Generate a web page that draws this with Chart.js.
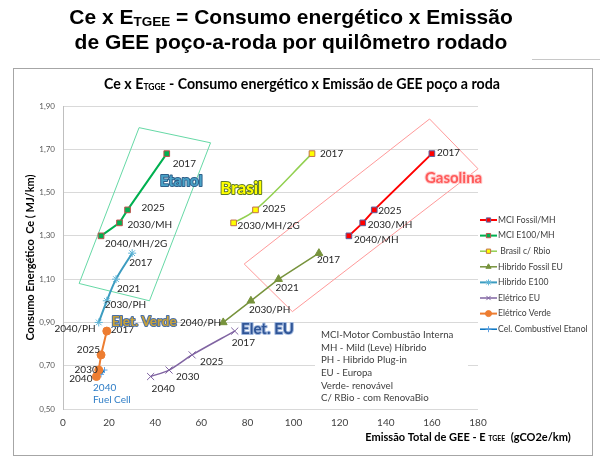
<!DOCTYPE html>
<html>
<head>
<meta charset="utf-8">
<script src="https://cdn.jsdelivr.net/npm/chart.js@4/dist/chart.umd.min.js"></script>
<style>
  html, body { margin: 0; padding: 0; background: #fff; }
  #wrap { position: relative; width: 600px; height: 460px; overflow: hidden; }
  #title {
    position: absolute; left: -9px; top: 4px; width: 600px; text-align: center;
    font: bold 21px "Liberation Sans", Arial, sans-serif; line-height: 25px; color: #000;
  }
  #title sub { font-size: 13.5px; vertical-align: -2px; line-height: 0; }
  canvas { position: absolute; left: 0; top: 0; }
</style>
</head>
<body>
<div id="wrap">
  <canvas id="chart" width="600" height="460"></canvas>
  <div id="title">Ce x E<sub>TGEE</sub> = Consumo energético x Emissão<br>de GEE poço-a-roda por quilômetro rodado</div>
</div>
<script>
/* =========================
   DATA
========================= */
const fossilX = [160, 135, 130, 124];
const fossilY = [1.68, 1.42, 1.36, 1.30];
const fossilYears = ["2017", "2025", "2030/MH", "2040/MH"];

const e100X = [45, 28, 24.5, 16.5];
const e100Y = [1.68, 1.42, 1.36, 1.30];
const e100Years = ["2017", "2025", "2030/MH", "2040/MH/2G"];

const brasilX = [108, 83.5, 74];
const brasilY = [1.68, 1.42, 1.36];
const brasilYears = ["2017", "2025", "2030/MH/2G"];

const hibFossilX = [111, 93.5, 81.5, 69.5];
const hibFossilY = [1.22, 1.10, 1.00, 0.90];
const hibFossilYears = ["2017", "2021", "2030/PH", "2040/PH"];

const hibE100X = [30, 23, 19, 15.5];
const hibE100Y = [1.22, 1.10, 1.00, 0.90];
const hibE100Years = ["2017", "2021", "2030/PH", "2040/PH"];

const eletEuX = [74.5, 56, 46, 38];
const eletEuY = [0.86, 0.75, 0.68, 0.65];
const eletEuYears = ["2017", "2025", "2030", "2040"];

const eletVerdeX = [19, 16.5, 15.5, 14.5];
const eletVerdeY = [0.86, 0.75, 0.68, 0.65];
const eletVerdeYears = ["2017", "2025", "2030", "2040"];

const celX = [16.5, 18];
const celY = [0.66, 0.68];

// outlined group boxes (data units)
const etanolBoxX = [33, 64, 37.5, 7, 33];
const etanolBoxY = [1.80, 1.73, 1.00, 1.08, 1.80];
const gasolinaBoxX = [159, 180, 99.5, 78.6, 159];
const gasolinaBoxY = [1.84, 1.61, 0.95, 1.17, 1.84];

const xMin = 0, xMax = 180, xStep = 20;
const yMin = 0.5, yMax = 1.9, yStep = 0.2;

const notes = [
  "MCI-Motor Combustão Interna",
  "MH - Mild (Leve) Híbrido",
  "PH - Hibrido Plug-in",
  "EU - Europa",
  "Verde- renovável",
  "C/ RBio - com RenovaBio"
];

/* =========================
   LABEL PLACEMENT  [dx, dy, align]
========================= */
const place = {
  fossil:    [[5, -1, "l"], [4, 1, "l"], [5, 2, "l"], [5, 4, "l"]],
  e100:      [[6, 10, "l"], [14, -2, "l"], [8, 2, "l"], [4, 8, "l"]],
  brasil:    [[8, 0, "l"], [7, -1, "l"], [4, 3, "l"]],
  hibFossil: [[-2, 7, "l"], [-3, 9, "l"], [-2, 9, "l"], [-2, 0, "r"]],
  hibE100:   [[-3, 10, "l"], [1, 10, "l"], [-2, 4, "l"], [-3, 6, "r"]],
  eletEu:    [[-3, 12, "l"], [8, 7, "l"], [7, 7, "l"], [1, 12, "l"]],
  eletVerde: [[4, -1, "l"], [-1, -5, "r"], [-1, 0, "r"], [-4, 2, "r"]]
};

// big group captions: text, x, y (data units), style
const captions = [
  { text: "Etanol",      x: 51.3,  y: 1.553, size: 15, fill: "#4aa3c8", stroke: "#2f5f8a" },
  { text: "Brasil",      x: 77.3,  y: 1.52,  size: 17, fill: "#ffff00", stroke: "#5f7a2a" },
  { text: "Gasolina",    x: 169.4, y: 1.567, size: 15, fill: "#ff5a5a", stroke: "#ffd0d0" },
  { text: "Elet. Verde", x: 35.2,  y: 0.902, size: 13.5, fill: "#c9a23a", stroke: "#4a6fa5" },
  { text: "Elet. EU",    x: 88.7,  y: 0.87,  size: 15, fill: "#2f5597", stroke: "#9fb6dc" }
];

/* =========================
   DATASETS
========================= */
function pts(xs, ys) {
  return xs.map((x, i) => ({ x: x, y: ys[i] }));
}

function series(label, xs, ys, years, key, style) {
  return Object.assign({
    label: label,
    data: pts(xs, ys),
    years: years,
    labelPlace: key ? place[key] : null,
    showLine: true,
    legend: true
  }, style);
}

const datasets = [
  series("MCI Fossil/MH", fossilX, fossilY, fossilYears, "fossil", {
    borderColor: "#ff0000", backgroundColor: "#ff0000", borderWidth: 2,
    pointStyle: "rect", pointRadius: 4, pointBorderColor: "#5b5f9e", pointBorderWidth: 1
  }),
  series("MCI E100/MH", e100X, e100Y, e100Years, "e100", {
    borderColor: "#00b050", backgroundColor: "#00b050", borderWidth: 2,
    pointStyle: "rect", pointRadius: 4, pointBorderColor: "#c0504d", pointBorderWidth: 1
  }),
  series(" Brasil c/ Rbio", brasilX, brasilY, brasilYears, "brasil", {
    borderColor: "#92d050", backgroundColor: "#ffff00", borderWidth: 1.5, tension: 0.4,
    pointStyle: "rect", pointRadius: 4, pointBorderColor: "#c0704d", pointBorderWidth: 1
  }),
  series("Hibrido Fossil EU", hibFossilX, hibFossilY, hibFossilYears, "hibFossil", {
    borderColor: "#77933c", backgroundColor: "#77933c", borderWidth: 1.5,
    pointStyle: "triangle", pointRadius: 4.5, pointBorderColor: "#77933c", pointBorderWidth: 1
  }),
  series("Hibrido E100", hibE100X, hibE100Y, hibE100Years, "hibE100", {
    borderColor: "#3c9cc0", backgroundColor: "#3c9cc0", borderWidth: 2, tension: 0.3,
    pointStyle: "star", pointRadius: 4, pointBorderColor: "#5fb4d6", pointBorderWidth: 1
  }),
  series("Elétrico EU", eletEuX, eletEuY, eletEuYears, "eletEu", {
    borderColor: "#8064a2", backgroundColor: "#8064a2", borderWidth: 1.5, tension: 0.3,
    pointStyle: "crossRot", pointRadius: 5, pointBorderColor: "#8064a2", pointBorderWidth: 1
  }),
  series("Elétrico Verde", eletVerdeX, eletVerdeY, eletVerdeYears, "eletVerde", {
    borderColor: "#ed7d31", backgroundColor: "#ed7d31", borderWidth: 2,
    pointStyle: "circle", pointRadius: 4, pointBorderColor: "#ed7d31", pointBorderWidth: 1
  }),
  series("Cel. Combustível Etanol", celX, celY, null, null, {
    borderColor: "#0070c0", backgroundColor: "#0070c0", borderWidth: 1.5,
    pointStyle: "cross", pointRadius: 3, pointBorderColor: "#5fa0e0", pointBorderWidth: 1
  }),
  {
    label: "etanolBox", data: pts(etanolBoxX, etanolBoxY), showLine: true, legend: false,
    borderColor: "#66d9a6", borderWidth: 1, pointRadius: 0, clip: false
  },
  {
    label: "gasolinaBox", data: pts(gasolinaBoxX, gasolinaBoxY), showLine: true, legend: false,
    borderColor: "#ff9a9a", borderWidth: 1, pointRadius: 0, clip: false
  }
];

/* =========================
   DRAWING HELPERS
========================= */
const LABEL_FONT = "Lato, 'Open Sans', sans-serif";

function subText(ctx, parts, x, y, align) {
  // parts: [[text, font, dy]]
  let total = 0;
  parts.forEach(p => { ctx.font = p[1]; total += ctx.measureText(p[0]).width; });
  let cx = align === "center" ? x - total / 2 : x;
  ctx.textAlign = "left";
  parts.forEach(p => {
    ctx.font = p[1];
    ctx.fillText(p[0], cx, y + p[2]);
    cx += ctx.measureText(p[0]).width;
  });
}

/* =========================
   PLUGIN: FRAME + BOX + TEXT
========================= */
const decor = {
  id: "decor",
  beforeDraw(chart) {
    const ctx = chart.ctx;
    ctx.save();
    ctx.fillStyle = "#ffffff";
    ctx.fillRect(0, 0, chart.width, chart.height);
    ctx.strokeStyle = "#a6a6a6";
    ctx.lineWidth = 1;
    ctx.strokeRect(13.5, 68.5, 579, 387);
    ctx.strokeStyle = "#c8c8c8";
    ctx.beginPath();
    ctx.moveTo(532, 59.5);
    ctx.lineTo(600, 59.5);
    ctx.stroke();
    ctx.restore();
  },
  beforeDatasetsDraw(chart) {
    // notes box covering the grid
    const ctx = chart.ctx;
    ctx.save();
    ctx.fillStyle = "#ffffff";
    ctx.fillRect(315, 328, 153, 77);
    ctx.fillStyle = "#404040";
    ctx.font = "9.7px " + LABEL_FONT;
    ctx.textBaseline = "middle";
    ctx.textAlign = "left";
    notes.forEach((t, i) => ctx.fillText(t, 321, 335 + i * 12.6));
    ctx.restore();
  },
  afterDatasetsDraw(chart) {
    const ctx = chart.ctx;
    const xs = chart.scales.x, ys = chart.scales.y;
    ctx.save();
    ctx.textBaseline = "middle";

    // year labels
    ctx.fillStyle = "#262626";
    ctx.font = "10px " + LABEL_FONT;
    chart.data.datasets.forEach((ds, i) => {
      if (!ds.years) return;
      const meta = chart.getDatasetMeta(i);
      ds.years.forEach((t, j) => {
        const p = meta.data[j];
        const pl = ds.labelPlace[j];
        ctx.textAlign = pl[2] === "r" ? "right" : "left";
        ctx.fillText(t, p.x + pl[0], p.y + pl[1]);
      });
    });

    // fuel cell caption
    const cel = chart.getDatasetMeta(7).data[0];
    ctx.fillStyle = "#2e7dc6";
    ctx.textAlign = "left";
    ctx.fillText("2040", cel.x - 8, cel.y + 13);
    ctx.fillText("Fuel Cell", cel.x - 8, cel.y + 25);

    // group captions
    ctx.textAlign = "center";
    captions.forEach(c => {
      ctx.font = "bold " + c.size + "px " + LABEL_FONT;
      ctx.lineWidth = 2;
      ctx.lineJoin = "round";
      ctx.strokeStyle = c.stroke;
      ctx.strokeText(c.text, xs.getPixelForValue(c.x), ys.getPixelForValue(c.y));
      ctx.fillStyle = c.fill;
      ctx.fillText(c.text, xs.getPixelForValue(c.x), ys.getPixelForValue(c.y));
    });

    // legend
    let ly = 220;
    chart.data.datasets.forEach(ds => {
      if (!ds.legend) return;
      ctx.strokeStyle = ds.borderColor;
      ctx.lineWidth = ds.borderWidth;
      ctx.beginPath();
      ctx.moveTo(480, ly);
      ctx.lineTo(497, ly);
      ctx.stroke();
      ctx.fillStyle = ds.backgroundColor;
      ctx.strokeStyle = ds.pointBorderColor;
      ctx.lineWidth = 1;
      Chart.helpers.drawPoint(ctx, {
        pointStyle: ds.pointStyle, radius: 3, rotation: 0, borderWidth: 1
      }, 488.5, ly);
      ctx.fillStyle = "#404040";
      ctx.font = "8.6px " + LABEL_FONT;
      ctx.textAlign = "left";
      ctx.fillText(ds.label, 498, ly);
      ly += 15.6;
    });

    // subtitle
    ctx.fillStyle = "#000000";
    const bf = "bold 14.2px " + LABEL_FONT;
    const sf = "bold 8.5px " + LABEL_FONT;
    subText(ctx, [["Ce x E", bf, 0], ["TGGE", sf, 3],
      [" - Consumo energético x Emissão de GEE poço a roda", bf, 0]], 302, 84, "center");

    // x axis title
    const tf = "bold 11px " + LABEL_FONT;
    subText(ctx, [["Emissão Total de GEE - E ", tf, 0], ["TGEE", "bold 7px " + LABEL_FONT, 2],
      ["  (gCO2e/km)", tf, 0]], 468, 437, "center");
    ctx.restore();
  }
};

/* =========================
   CHART
========================= */
new Chart(document.getElementById("chart"), {
  type: "scatter",
  data: { datasets: datasets },
  options: {
    responsive: false,
    animation: false,
    layout: { padding: { left: 13, right: 122, top: 106, bottom: 21 } },
    plugins: {
      legend: { display: false },
      tooltip: { enabled: false }
    },
    scales: {
      x: {
        min: xMin, max: xMax,
        ticks: { stepSize: xStep, padding: 8, color: "#404040", font: { family: LABEL_FONT, size: 10 } },
        grid: { display: false, drawTicks: false },
        border: { display: false },
        afterFit: s => { s.height = 30; }
      },
      y: {
        min: yMin, max: yMax,
        ticks: {
          stepSize: yStep, padding: 8, color: "#595959",
          font: { family: LABEL_FONT, size: 8 },
          callback: v => v.toFixed(2).replace(".", ",")
        },
        grid: { color: "#d9d9d9", drawTicks: false },
        border: { display: true, color: "#bfbfbf" },
        title: {
          display: true, text: "Consumo Energético  Ce ( MJ/km)", color: "#000",
          font: { family: LABEL_FONT, size: 11, weight: "bold" }, padding: { top: 11, bottom: 0 }
        },
        afterFit: s => { s.width = 50; }
      }
    }
  },
  plugins: [decor]
});
</script>
</body>
</html>
